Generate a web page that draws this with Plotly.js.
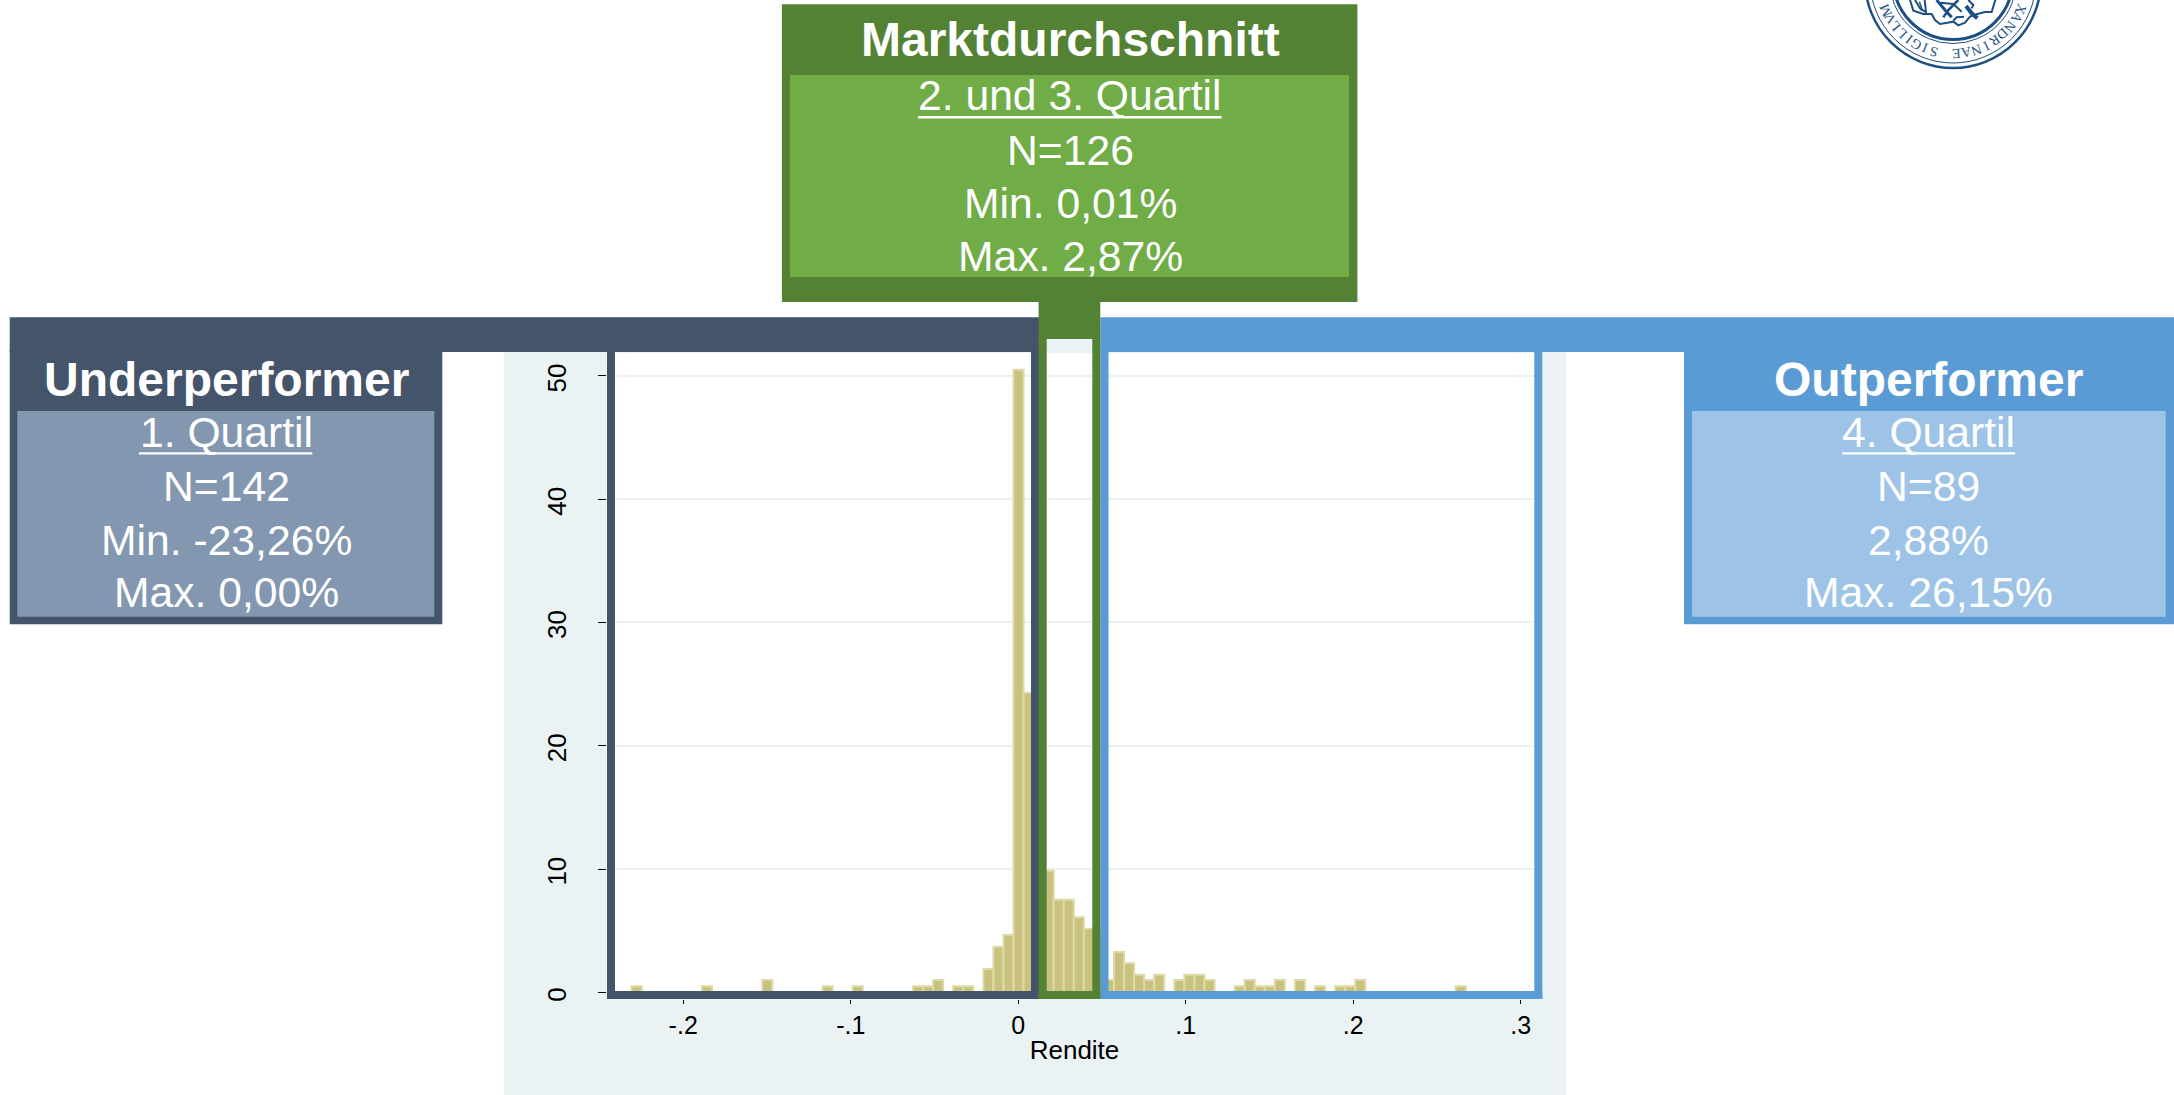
<!DOCTYPE html>
<html><head><meta charset="utf-8">
<script src="https://cdn.plot.ly/plotly-3.0.1.min.js"></script>
<style>html,body{margin:0;padding:0;background:#fff}#c{width:2174px;height:1095px}</style></head>
<body><div id="c"></div>
<script>
// Data: histogram bin centres and density heights
const rendite = [-.2278,-.1858,-.1498,-.1138,-.0958,-.0598,-.0538,-.0478,-.0358,-.0298,-.0178,-.0118,-.0058,.0002,.0062,.0122,.0182,.0242,.0302,.0362,.0422,.0482,.0542,.0602,.0662,.0722,.0782,.0842,.0962,.1022,.1082,.1142,.1322,.1382,.1442,.1502,.1562,.1682,.1802,.1922,.1982,.2042,.2642];
const dichte  = [.5,.5,1,.5,.5,.5,.5,1,.5,.5,1.9,3.7,4.65,50.5,24.3,8,9.85,7.5,7.5,6.08,5.16,5,1,3.27,2.35,1.43,1,1.43,1,1.43,1.43,1,.5,1,.5,.5,1,1,.5,.5,.5,1,.5];
const xTickVals = [-.2,-.1,0,.1,.2,.3];
const xTickText = ['-.2','-.1','0','.1','.2','.3'];
const yTickVals = [0,10,20,30,40,50];
const xTitle = 'Rendite';
const underTitle = 'Underperformer';
const underLines = ['1. Quartil','N=142','Min. -23,26%','Max. 0,00%'];
const marketTitle = 'Marktdurchschnitt';
const marketLines = ['2. und 3. Quartil','N=126','Min. 0,01%','Max. 2,87%'];
const outTitle = 'Outperformer';
const outLines = ['4. Quartil','N=89','2,88%','Max. 26,15%'];
const sealLeft = 'SIGILLVM';
const sealRight = 'XANDRINAE';

// Page layout (pixels)
const W=2174,H=1095,PL=607,PR=1542,PT=353,PB=999;
const px=x=>(x-PL)/(PR-PL), py=y=>(PB-y)/(PB-PT);
const FONT='"Liberation Sans", Arial, sans-serif';
const NAVY='#44546a',NAVY2='#8497b0',GREEN='#548235',GREEN2='#70ad47',BLUE='#5b9bd5',BLUE2='#9dc3e6',STATA='#eaf2f3',SEAL='#1c4f82';

function rect(x0,y0,x1,y1,fill,layer){return {type:'rect',xref:'paper',yref:'paper',x0:px(x0),x1:px(x1),y0:py(y0),y1:py(y1),fillcolor:fill,line:{width:0},layer:layer||'above'};}
function ring(cx,cy,r,w){return {type:'circle',xref:'paper',yref:'paper',x0:px(cx-r),x1:px(cx+r),y0:py(cy+r),y1:py(cy-r),line:{color:SEAL,width:w},fillcolor:'rgba(0,0,0,0)',layer:'above'};}
// open stroke on the seal, given in crop coordinates of the seal area
function stroke(pts,w){
  const d=pts.map((p,i)=>(i?'L':'M')+px(1890+p[0]/3)+','+py(p[1]/3)).join(' ');
  return {type:'path',xref:'paper',yref:'paper',path:d,fillcolor:'rgba(0,0,0,0)',line:{color:SEAL,width:w},layer:'above'};
}
function label(x,base,text,size,bold){
  const f={family:FONT,size:size,color:'#fff',weight:bold?700:400};
  return {xref:'paper',yref:'paper',x:px(x),y:py(base+.212*size+1),xanchor:'center',yanchor:'bottom',showarrow:false,text:text,font:f,borderpad:0};
}
function panel(cx,titleBase,title,bases,lines){
  const a=[label(cx,titleBase,title,48,true)];
  lines.forEach((t,i)=>a.push(label(cx,bases[i],t,42.67,false)));
  return a;
}

const shapes=[
  rect(504,330,1566,1095,STATA,'below'),
  rect(PL,PT,PR,PB,'#ffffff','below'),
  // navy frame + panel
  rect(9.7,317.3,1039,352,NAVY),
  rect(607,350,615,999,NAVY),
  rect(1031,350,1039,999,NAVY),
  rect(607,991,1039,999,NAVY),
  rect(9.7,350,442.3,624.3,NAVY),
  rect(17.3,411,434.3,616.7,NAVY2),
  // blue frame + panel
  rect(1100.3,317.3,2174,352,BLUE),
  rect(1100.3,350,1108.5,999,BLUE),
  rect(1534.3,350,1542.3,999,BLUE),
  rect(1100.3,991,1542.3,999,BLUE),
  rect(1684,350,2174,624.3,BLUE),
  rect(1692,411,2165.7,616.7,BLUE2),
  // green frame + panel
  rect(1038.6,300,1100.3,339,GREEN),
  rect(1038.6,337,1046.7,999,GREEN),
  rect(1092.3,337,1100.3,999,GREEN),
  rect(1038.6,991,1100.3,999,GREEN),
  rect(781.9,4.3,1357.4,302,GREEN),
  rect(789.9,75,1349,277,GREEN2),
  // underlines of the first panel lines
  rect(918,116,1221.6,118.4,'#fff'),
  rect(139,452.2,312.3,454.6,'#fff'),
  rect(1842.3,452.2,2015,454.6,'#fff'),
  // seal
  ring(1953,-20,88,2.5),ring(1953,-20,83,1),ring(1953,-20,59.5,3),ring(1953,-20,63.5,1),
  stroke([[60,0],[70,32],[100,42],[125,42],[135,60],[150,72],[172,68],[190,65],[205,76],[225,68],[240,50],[262,42],[285,36],[305,36],[316,0]],2),
  stroke([[75,0],[92,28],[108,36],[104,0]],2),
  stroke([[88,5],[97,30]],1.5),
  stroke([[140,0],[165,30],[185,52]],3),
  stroke([[205,0],[175,30],[160,52]],2.5),
  stroke([[150,8],[190,12],[215,35]],2),
  stroke([[228,18],[245,40],[262,55]],4),
  stroke([[235,0],[250,15],[245,25]],2),
  stroke([[190,62],[200,52],[222,50]],2)
];

let annotations=[
  ...panel(1070,56,marketTitle,[110,164.5,217.8,271],marketLines),
  ...panel(226,396,underTitle,[446.5,500.5,554.5,607],underLines),
  ...panel(1928.7,396,outTitle,[446.5,500.5,554.5,607],outLines)
];
// seal lettering: letters follow the ring, clockwise, tops pointing outward
function arc(word,start,step){
  return word.split('').map((ch,i)=>{
    const th=start+step*i,r=th*Math.PI/180,R=73.5;
    const x=1953-R*Math.sin(r),y=-20+R*Math.cos(r);
    return {xref:'paper',yref:'paper',x:px(x),y:py(y),xanchor:'center',yanchor:'middle',showarrow:false,text:ch,textangle:180+th,font:{family:'"Liberation Serif", serif',size:14,color:SEAL},borderpad:0};
  });
}
annotations=annotations.concat(arc(sealLeft,15,7.3),arc(sealRight,-67,8.1));

const trace={type:'bar',x:rendite,y:dichte,width:.006,marker:{color:'#c9c27f',line:{color:'#dedaa8',width:2}},hoverinfo:'x+y'};
const layout={
  width:W,height:H,autosize:false,showlegend:false,
  margin:{l:PL,r:W-PR,t:PT,b:H-PB,pad:0},
  paper_bgcolor:'#ffffff',plot_bgcolor:'rgba(0,0,0,0)',bargap:0,
  font:{family:FONT,color:'#000'},
  xaxis:{range:[-.2455,.3127],tickmode:'array',tickvals:xTickVals,ticktext:xTickText,ticks:'outside',ticklen:4,tickwidth:1,tickcolor:'#000',
    tickfont:{size:25,family:FONT,color:'#000'},showgrid:false,zeroline:false,showline:false,automargin:false,
    title:{text:xTitle,font:{size:26,family:FONT,color:'#000'},standoff:2}},
  yaxis:{range:[-.543,51.85],tickmode:'array',tickvals:yTickVals,ticks:'outside',ticklen:8,tickwidth:1,tickcolor:'#000',tickangle:-90,
    tickfont:{size:26,family:FONT,color:'#000'},ticklabelstandoff:22,ticklabelshift:6,showgrid:true,gridcolor:STATA,gridwidth:2,zeroline:false,showline:false,automargin:false},
  shapes:shapes,annotations:annotations
};
Plotly.newPlot('c',[trace],layout,{displayModeBar:false,staticPlot:true});
</script></body></html>
